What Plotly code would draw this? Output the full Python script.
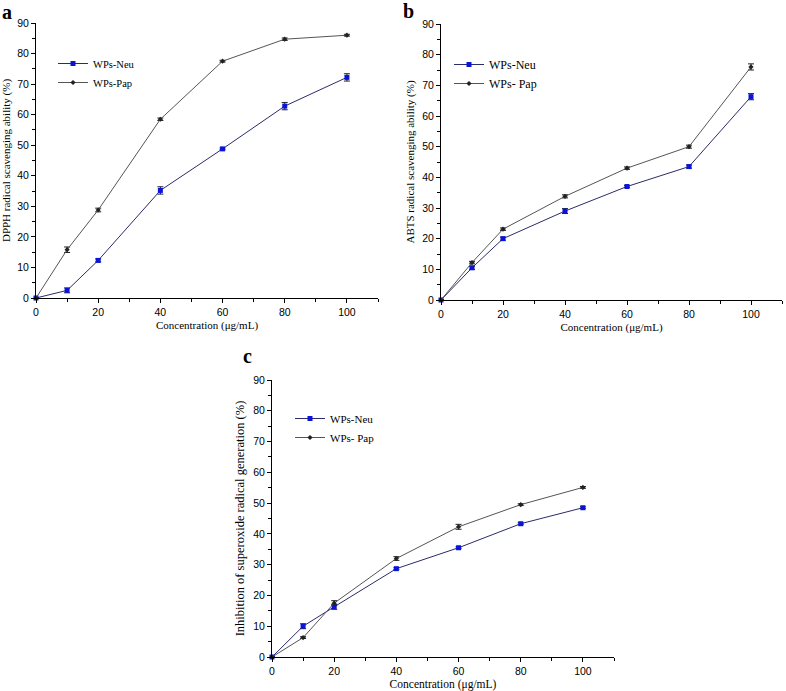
import plotly.graph_objects as go

conc = [0, 10, 20, 40, 60, 80, 100]

dpph_neu = [0, 2.5, 12.3, 35.2, 48.8, 62.8, 72.2]
dpph_neu_err = [0, 0.8, 0.5, 1.2, 0.3, 1.2, 1.2]
dpph_pap = [0, 15.8, 28.8, 58.5, 77.5, 84.7, 86.0]
dpph_pap_err = [0, 0.9, 0.6, 0.4, 0.3, 0.4, 0.3]

abts_neu = [0, 10.5, 20.0, 29.0, 37.0, 43.5, 66.3]
abts_neu_err = [0, 0.5, 0.5, 0.8, 0.3, 0.5, 1.0]
abts_pap = [0, 12.2, 23.1, 33.8, 43.0, 50.0, 76.0]
abts_pap_err = [0, 0.4, 0.4, 0.5, 0.4, 0.5, 1.0]

sup_neu = [0, 10.0, 16.3, 28.7, 35.5, 43.3, 48.5]
sup_neu_err = [0, 0.8, 0.8, 0.3, 0.3, 0.3, 0.3]
sup_pap = [0, 6.3, 17.5, 32.0, 42.3, 49.5, 55.1]
sup_pap_err = [0, 0.3, 0.8, 0.6, 0.8, 0.3, 0.3]

panels = [
    ("a", "DPPH radical scavenging ability (%)", dpph_neu, dpph_neu_err, dpph_pap, dpph_pap_err, "WPs-Pap"),
    ("b", "ABTS radical scavenging ability (%)", abts_neu, abts_neu_err, abts_pap, abts_pap_err, "WPs- Pap"),
    ("c", "Inhibition of superoxide radical generation (%)", sup_neu, sup_neu_err, sup_pap, sup_pap_err, "WPs- Pap"),
]

W, H = 786, 691
# pixel boxes: (x0, x1, ybottom, ytop)
boxes = [(36, 378, 298, 23), (441, 782, 300, 24), (272, 614, 657, 380)]
legend_pos = [(53, 49), (449, 50), (290, 404)]
letter_pos = [(0, 12), (401, 11), (241, 356)]
legend_font = [10.5, 12, 11]
ytitle_font = [11, 11, 12.5]
xtitle_font = [11, 11, 11.5]

serif = "Liberation Serif"
sans = "Liberation Sans"

fig = go.Figure()
layout = dict(
    width=W, height=H, margin=dict(l=0, r=0, t=0, b=0, autoexpand=False),
    plot_bgcolor="white", paper_bgcolor="white", showlegend=True,
    annotations=[],
)

for i, (letter, ytitle, neu, neu_e, pap, pap_e, papname) in enumerate(panels):
    sfx = "" if i == 0 else str(i + 1)
    lg = "legend" if i == 0 else "legend" + str(i + 1)
    fig.add_trace(go.Scatter(
        x=conc, y=neu, name="WPs-Neu", mode="lines+markers",
        xaxis="x" + sfx, yaxis="y" + sfx, legend=lg, cliponaxis=False,
        line=dict(color="#2b2b6b", width=1),
        marker=dict(symbol="square", size=5, color="#0a14d8"),
        error_y=dict(type="data", array=neu_e, visible=True, color="#222222", thickness=1, width=3),
    ))
    fig.add_trace(go.Scatter(
        x=conc, y=pap, name=papname, mode="lines+markers",
        xaxis="x" + sfx, yaxis="y" + sfx, legend=lg, cliponaxis=False,
        line=dict(color="#555555", width=1),
        marker=dict(symbol="diamond", size=4, color="#222222"),
        error_y=dict(type="data", array=pap_e, visible=True, color="#222222", thickness=1, width=3),
    ))
    x0, x1, yb, yt = boxes[i]
    layout["xaxis" + sfx] = dict(
        domain=[x0 / W, x1 / W], range=[0, 110], anchor="y" + sfx, automargin=False,
        tickvals=[0, 20, 40, 60, 80, 100], ticks="outside", ticklen=4,
        tickcolor="black", showline=True, linecolor="black", linewidth=1,
        showgrid=False, zeroline=False,
        tickfont=dict(family=sans, size=10.5, color="black"),
        minor=dict(tickvals=[10, 30, 50, 70, 90, 110], ticks="outside", ticklen=3, tickcolor="black", showgrid=False),
        title=dict(text="Concentration (μg/mL)", font=dict(family=serif, size=xtitle_font[i], color="black"), standoff=4),
    )
    layout["yaxis" + sfx] = dict(
        domain=[1 - yb / H, 1 - yt / H], range=[0, 90], anchor="x" + sfx, automargin=False,
        dtick=10, ticks="outside", ticklen=4, tickcolor="black",
        showline=True, linecolor="black", linewidth=1,
        showgrid=False, zeroline=False,
        tickfont=dict(family=sans, size=10.5, color="black"),
        minor=dict(dtick=5, ticks="outside", ticklen=3, tickcolor="black", showgrid=False),
        title=dict(text=ytitle, font=dict(family=serif, size=ytitle_font[i], color="black"), standoff=5),
    )
    lx, ly = legend_pos[i]
    layout[lg] = dict(
        x=lx / W, y=1 - ly / H, xanchor="left", yanchor="top",
        bgcolor="rgba(0,0,0,0)", font=dict(family=serif, size=legend_font[i], color="black"),
        itemwidth=30, tracegroupgap=0,
    )
    px, py = letter_pos[i]
    layout["annotations"].append(dict(
        text="<b>" + letter + "</b>", x=px / W, y=1 - py / H, xref="paper", yref="paper",
        xanchor="left", yanchor="middle", showarrow=False,
        font=dict(family=serif, size=20, color="black"),
    ))

fig.update_layout(**layout)
fig.write_html(
    "out.html",
    config={"displayModeBar": False},
    post_script="document.body.style.margin='0';document.body.style.overflow='hidden';",
)
